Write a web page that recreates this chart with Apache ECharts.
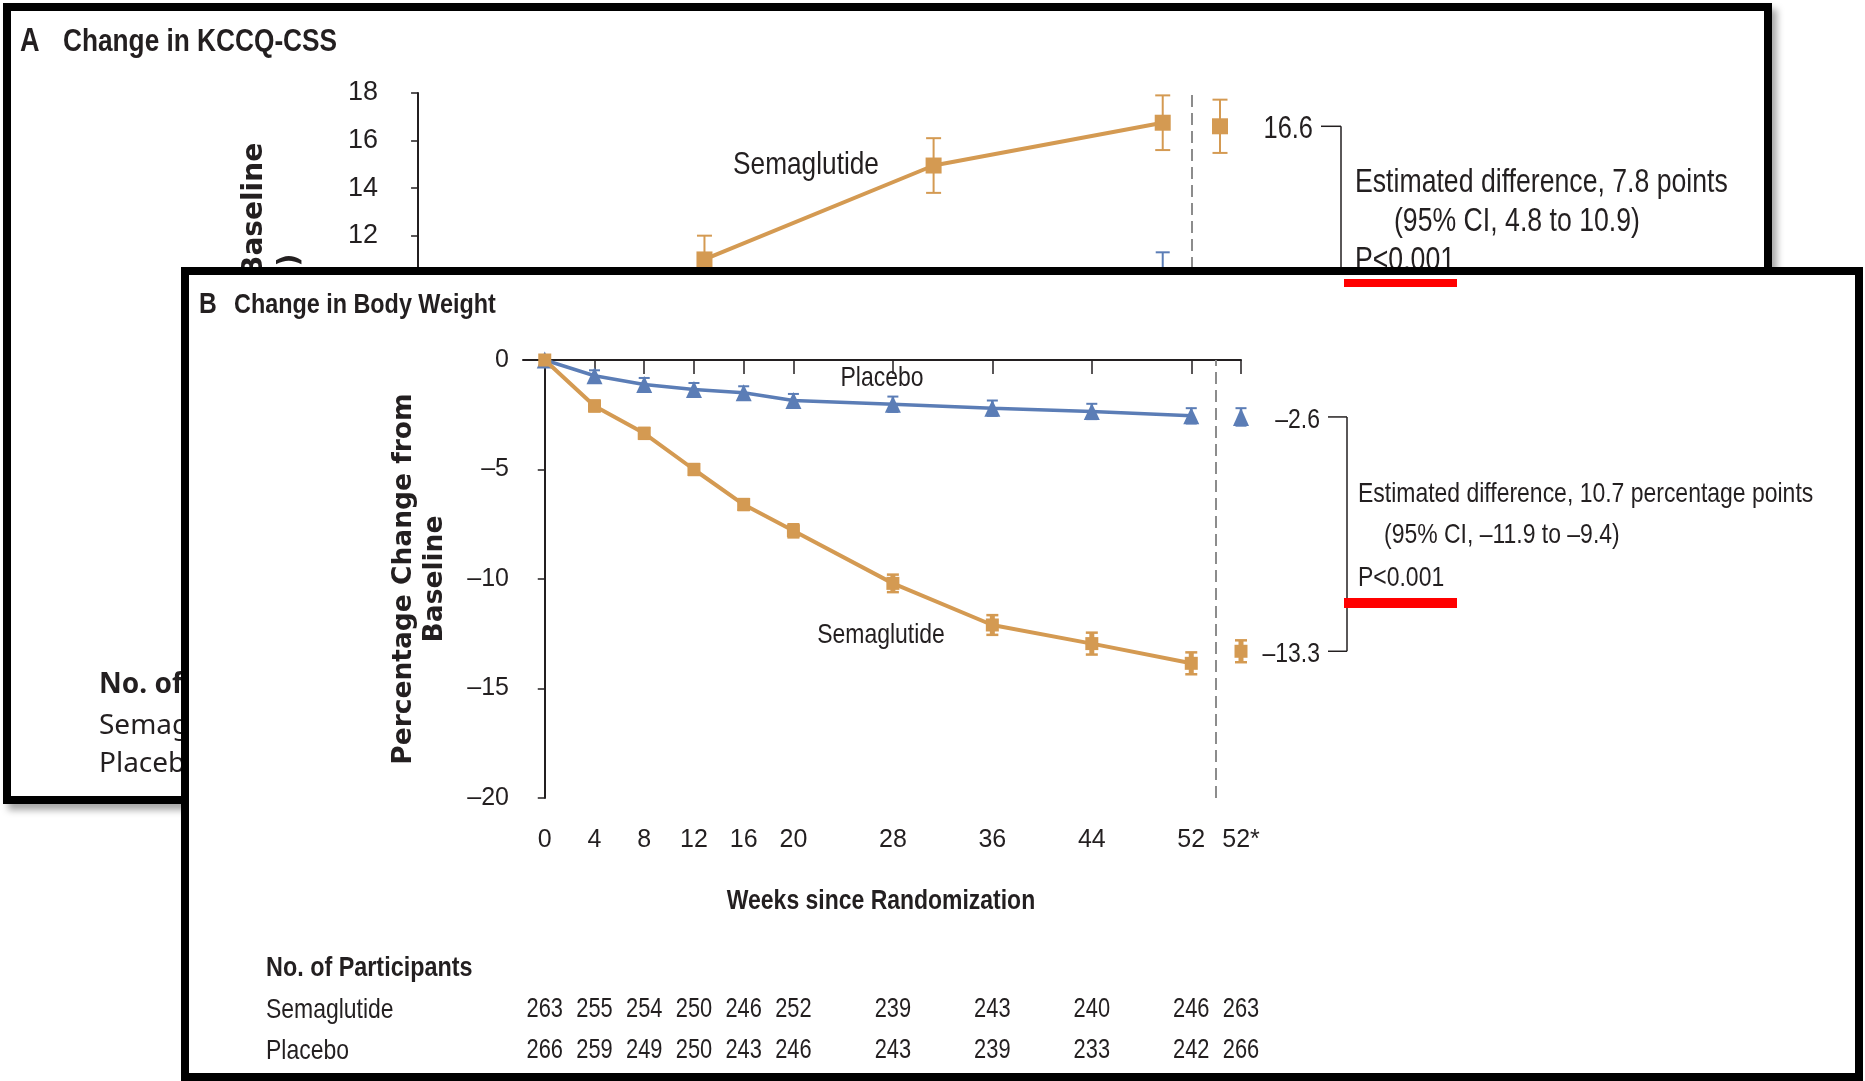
<!DOCTYPE html>
<html>
<head>
<meta charset="utf-8">
<script src="https://cdn.jsdelivr.net/npm/echarts@6/dist/echarts.min.js"></script>
<style>
  html, body { margin: 0; padding: 0; background: #fff; width: 1865px; height: 1081px; overflow: hidden; }
  .panel { position: absolute; box-sizing: border-box; border: 8px solid #000; background: #fff; }
  #panelA { left: 3px; top: 3px; width: 1769px; height: 801px; box-shadow: 5px 6px 7px rgba(0, 0, 0, 0.35); }
  #panelB { left: 181px; top: 267px; width: 1682px; height: 814px; }
  .chart { width: 100%; height: 100%; }
</style>
</head>
<body>
<div id="panelA" class="panel"><div id="chartA" class="chart"></div></div>
<div id="panelB" class="panel"><div id="chartB" class="chart"></div></div>
<script>
// ---- data, panel B (body weight, % change) ----
const weeksB = [0, 4, 8, 12, 16, 20, 28, 36, 44, 52]
const semaB = [0, -2.1, -3.35, -5.0, -6.6, -7.8, -10.2, -12.1, -12.95, -13.85]
const semaErrB = [0, 0.25, 0.25, 0.25, 0.25, 0.3, 0.4, 0.45, 0.5, 0.5]
const placeboB = [0, -0.72, -1.12, -1.35, -1.5, -1.85, -2.02, -2.2, -2.35, -2.55]
const placeboErrB = [0, 0.25, 0.3, 0.3, 0.3, 0.3, 0.35, 0.35, 0.35, 0.35]
const semaFinalB = -13.3
const semaFinalErrB = 0.5
const placeboFinalB = -2.6
const placeboFinalErrB = 0.4
const riskWeeks = [0, 4, 8, 12, 16, 20, 28, 36, 44, 52, 56]
const riskSema = [263, 255, 254, 250, 246, 252, 239, 243, 240, 246, 263]
const riskPlacebo = [266, 259, 249, 250, 243, 246, 243, 239, 233, 242, 266]
const riskGroups = ['Placebo', 'Semaglutide']

// ---- data, panel A (KCCQ-CSS, points) ----
const weeksA = [20, 36, 52]
const semaA = [11.0, 14.95, 16.75]
const semaErrA = [1.0, 1.15, 1.15]
const placeboWeeksA = [52]
const placeboA = [10.2]
const placeboErrA = [1.1]
const semaFinalA = 16.6
const semaFinalErrA = 1.12
const placeboFinalA = 8.8

// shared axis bits
const xTicks = [0, 4, 8, 12, 16, 20, 28, 36, 44, 52, 56]
const finalWeek = 56 // where "52*" sits
const dividerWeek = 54

const SEMA = '#d49a52'
const PLACEBO = '#5b7db6'
const INK = '#231f20'
const FONT = "'Liberation Sans', Arial, sans-serif"
const FONT_W = "'DejaVu Sans', 'Noto Sans', sans-serif"
const COND = 0.82 // squeeze factor to mimic the condensed journal face

function pairs (xs, ys) {
  return xs.map(function (x, i) { return [x, ys[i]] })
}
function errRows (xs, ys, es) {
  let rows = []
  xs.forEach(function (x, i) {
    if (es[i] > 0) rows.push([x, ys[i] - es[i], ys[i] + es[i]])
  })
  return rows
}
function dash (v) {
  return v < 0 ? '\u2013' + String(-v) : String(v)
}
function weekLabel (v) {
  return v === finalWeek ? '52*' : String(v)
}

function renderErrorBar (color, capWidth, lineWidth, stemWidth) {
  return function (params, api) {
    let top = api.coord([api.value(0), api.value(2)])
    let bottom = api.coord([api.value(0), api.value(1)])
    let half = capWidth / 2
    let cap = { stroke: color, lineWidth: lineWidth }
    return {
      type: 'group',
      children: [
        { type: 'line', shape: { x1: top[0], y1: top[1], x2: bottom[0], y2: bottom[1] }, style: { stroke: color, lineWidth: stemWidth || lineWidth } },
        { type: 'line', shape: { x1: top[0] - half, y1: top[1], x2: top[0] + half, y2: top[1] }, style: cap },
        { type: 'line', shape: { x1: bottom[0] - half, y1: bottom[1], x2: bottom[0] + half, y2: bottom[1] }, style: cap }
      ]
    }
  }
}

// bracket linking the two 52* estimates, drawn to the right of the axis
function renderBracket (cfg) {
  return function (params, api) {
    let a = api.coord([api.value(0), api.value(1)])
    let b = api.coord([api.value(0), api.value(2)])
    let x0 = a[0] + cfg.tickStart
    let x1 = a[0] + cfg.tickEnd
    let line = { stroke: INK, lineWidth: 1.5 }
    let txt = function (v, y) {
      return {
        type: 'text', x: a[0] + cfg.labelEnd, y: y + 3, scaleX: COND,
        style: { text: dash(v), align: 'right', verticalAlign: 'middle', fontSize: cfg.fontSize, fontFamily: FONT, fill: INK }
      }
    }
    let children = [
      { type: 'line', shape: { x1: x0, y1: a[1], x2: x1, y2: a[1] }, style: line },
      { type: 'line', shape: { x1: x1, y1: a[1], x2: x1, y2: b[1] }, style: line },
      { type: 'line', shape: { x1: x0, y1: b[1], x2: x1, y2: b[1] }, style: line },
      txt(api.value(1), a[1])
    ]
    if (cfg.bottomLabel) children.push(txt(api.value(2), b[1]))
    return { type: 'group', children: children }
  }
}

// participant counts placed on the shared week scale
function renderCount (params, api) {
  let p = api.coord([api.value(0), api.value(1)])
  return {
    type: 'text', x: p[0], y: p[1], scaleX: 0.78,
    style: { text: String(api.value(2)), align: 'center', verticalAlign: 'middle', fontSize: 28, fontFamily: FONT, fill: INK }
  }
}

function text (x, y, str, size, opts) {
  opts = opts || {}
  return {
    type: 'text', x: x, y: y, rotation: opts.rotation || 0, scaleX: opts.scaleX || COND, z: 50,
    style: {
      text: str, fontSize: size, fontFamily: opts.family || FONT, fontWeight: opts.weight || 'normal',
      fill: INK, align: opts.align || 'left', verticalAlign: 'middle', lineHeight: opts.lineHeight
    }
  }
}

function dividerLine () {
  return {
    silent: true,
    symbol: ['none', 'none'],
    label: { show: false },
    lineStyle: { color: '#8c8c8c', width: 2, type: [12, 6] },
    data: [{ xAxis: dividerWeek }]
  }
}

// ---------------- panel B ----------------
function buildOptionB () {
  return {
    animation: false,
    grid: [
      { left: 334, top: 85, width: 718, height: 438, outerBoundsMode: 'none' },
      { left: 334, top: 714, width: 718, height: 82, outerBoundsMode: 'none' }
    ],
    xAxis: [
      {
        gridIndex: 0, type: 'value', min: -1.75, max: finalWeek,
        axisLine: { show: true, lineStyle: { color: INK, width: 2 } },
        axisTick: { show: true, customValues: xTicks, length: 14, lineStyle: { color: INK, width: 1.5 } },
        axisLabel: { customValues: xTicks, formatter: weekLabel, margin: 30, fontSize: 25, color: INK, fontFamily: FONT },
        splitLine: { show: false }
      },
      { gridIndex: 1, type: 'value', min: -1.75, max: finalWeek, show: false }
    ],
    yAxis: [
      {
        gridIndex: 0, type: 'value', min: -20, max: 0, interval: 5,
        axisLine: { show: true, lineStyle: { color: INK, width: 2 } },
        axisTick: { show: true, length: 7, lineStyle: { color: INK, width: 1.5 } },
        axisLabel: { formatter: dash, margin: 14, fontSize: 25, color: INK, fontFamily: FONT },
        splitLine: { show: false }
      },
      { gridIndex: 1, type: 'category', data: riskGroups, show: false }
    ],
    series: [
      {
        type: 'custom', name: 'placebo err', renderItem: renderErrorBar(PLACEBO, 11, 2, 2.5), clip: false, z: 3,
        data: errRows(weeksB.concat([finalWeek]), placeboB.concat([placeboFinalB]), placeboErrB.concat([placeboFinalErrB]))
      },
      {
        type: 'custom', name: 'sema err', renderItem: renderErrorBar(SEMA, 12, 2.5, 5), clip: false, z: 3,
        data: errRows(weeksB.concat([finalWeek]), semaB.concat([semaFinalB]), semaErrB.concat([semaFinalErrB]))
      },
      {
        name: 'Placebo', type: 'line', data: pairs(weeksB, placeboB), symbol: 'triangle', symbolSize: [16, 17],
        showAllSymbol: true, lineStyle: { color: PLACEBO, width: 3.5 }, itemStyle: { color: PLACEBO }, z: 4
      },
      {
        name: 'Semaglutide', type: 'line', data: pairs(weeksB, semaB), symbol: 'rect', symbolSize: 13,
        showAllSymbol: true, lineStyle: { color: SEMA, width: 4 }, itemStyle: { color: SEMA }, z: 5,
        markLine: dividerLine()
      },
      {
        name: 'Placebo 52*', type: 'scatter', data: [[finalWeek, placeboFinalB]], symbol: 'triangle',
        symbolSize: [16, 18], itemStyle: { color: PLACEBO, opacity: 1 }, z: 4
      },
      {
        name: 'Semaglutide 52*', type: 'scatter', data: [[finalWeek, semaFinalB]], symbol: 'rect',
        symbolSize: 13, itemStyle: { color: SEMA, opacity: 1 }, z: 5
      },
      {
        type: 'custom', name: 'bracket', clip: false, z: 6,
        renderItem: renderBracket({ tickStart: 87, tickEnd: 106, labelEnd: 79, fontSize: 28, bottomLabel: true }),
        data: [[finalWeek, placeboFinalB, semaFinalB]]
      },
      {
        type: 'custom', name: 'No. of Participants', xAxisIndex: 1, yAxisIndex: 1, clip: false, z: 6,
        renderItem: renderCount,
        encode: { x: 0, y: 1 },
        data: riskWeeks.map(function (w, i) { return [w, 'Semaglutide', riskSema[i]] })
          .concat(riskWeeks.map(function (w, i) { return [w, 'Placebo', riskPlacebo[i]] }))
      }
    ],
    graphic: [
      text(10, 30, 'B', 30, { weight: 'bold' }),
      text(45, 30, 'Change in Body Weight', 28.5, { weight: 'bold' }),
      text(231, 304, 'Percentage Change from\nBaseline', 26.5, { family: FONT_W, weight: 'bold', align: 'center', rotation: Math.PI / 2, lineHeight: 31, scaleX: 1 }),
      text(693, 103, 'Placebo', 28, { align: 'center' }),
      text(692, 360, 'Semaglutide', 28, { align: 'center' }),
      text(692, 626, 'Weeks since Randomization', 28, { align: 'center', weight: 'bold' }),
      text(1169, 219, 'Estimated difference, 10.7 percentage points', 28),
      text(1195, 260, '(95% CI, \u201311.9 to \u20139.4)', 28),
      text(1169, 303, 'P<0.001', 28),
      text(77, 693, 'No. of Participants', 28.5, { weight: 'bold' }),
      text(77, 735, 'Semaglutide', 28),
      text(77, 776, 'Placebo', 28),
      { type: 'rect', z: 60, shape: { x: 1155, y: 4, width: 113, height: 8 }, style: { fill: '#ff0000' } },
      { type: 'rect', z: 60, shape: { x: 1155, y: 323, width: 113, height: 10 }, style: { fill: '#ff0000' } }
    ]
  }
}

// ---------------- panel A ----------------
function buildOptionA () {
  return {
    animation: false,
    grid: { left: 382, top: 82, width: 827, height: 428, outerBoundsMode: 'none' },
    xAxis: {
      type: 'value', min: -1.75, max: finalWeek,
      axisLine: { show: true, lineStyle: { color: INK, width: 2 } },
      axisTick: { show: true, customValues: xTicks, length: 14, lineStyle: { color: INK } },
      axisLabel: { customValues: xTicks, formatter: weekLabel, fontSize: 27, color: INK, fontFamily: FONT },
      splitLine: { show: false }
    },
    yAxis: {
      type: 'value', min: 0, max: 18, interval: 2,
      axisLine: { show: true, lineStyle: { color: INK, width: 2 } },
      axisTick: { show: true, length: 7, lineStyle: { color: INK, width: 1.5 } },
      axisLabel: { margin: 15, fontSize: 27, color: INK, fontFamily: FONT },
      splitLine: { show: false }
    },
    series: [
      {
        type: 'custom', name: 'placebo err', renderItem: renderErrorBar(PLACEBO, 14, 2), clip: false, z: 3,
        data: errRows(placeboWeeksA, placeboA, placeboErrA)
      },
      {
        type: 'custom', name: 'sema err', renderItem: renderErrorBar(SEMA, 15, 2), clip: false, z: 3,
        data: errRows(weeksA.concat([finalWeek]), semaA.concat([semaFinalA]), semaErrA.concat([semaFinalErrA]))
      },
      {
        name: 'Placebo', type: 'line', data: pairs(placeboWeeksA, placeboA), symbol: 'triangle', symbolSize: [17, 18],
        lineStyle: { color: PLACEBO, width: 4 }, itemStyle: { color: PLACEBO }, z: 4
      },
      {
        name: 'Semaglutide', type: 'line', data: pairs(weeksA, semaA), symbol: 'rect', symbolSize: 16,
        showAllSymbol: true, lineStyle: { color: SEMA, width: 4 }, itemStyle: { color: SEMA }, z: 5,
        markLine: dividerLine()
      },
      {
        name: 'Semaglutide 52*', type: 'scatter', data: [[finalWeek, semaFinalA]], symbol: 'rect',
        symbolSize: 16, itemStyle: { color: SEMA, opacity: 1 }, z: 5
      },
      {
        name: 'Placebo 52*', type: 'scatter', data: [[finalWeek, placeboFinalA]], symbol: 'triangle',
        symbolSize: [17, 18], itemStyle: { color: PLACEBO, opacity: 1 }, z: 4
      },
      {
        type: 'custom', name: 'bracket', clip: false, z: 6,
        renderItem: renderBracket({ tickStart: 101, tickEnd: 121, labelEnd: 93, fontSize: 31, bottomLabel: false }),
        data: [[finalWeek, semaFinalA, placeboFinalA]]
      }
    ],
    graphic: [
      text(9, 31, 'A', 33, { weight: 'bold' }),
      text(52, 31, 'Change in KCCQ-CSS', 32, { weight: 'bold' }),
      text(262, 305, 'Change from Baseline\n(points)', 28, { family: FONT_W, weight: 'bold', align: 'center', rotation: Math.PI / 2, lineHeight: 36, scaleX: 1 }),
      text(795, 154, 'Semaglutide', 32, { align: 'center' }),
      text(1344, 172, 'Estimated difference, 7.8 points', 32.5),
      text(1383, 211, '(95% CI, 4.8 to 10.9)', 32.5),
      text(1344, 250, 'P<0.001', 32.5),
      text(88, 674, 'No. of Participants', 28, { family: "'Noto Sans', sans-serif", weight: 'bold', scaleX: 1 }),
      text(88, 715, 'Semaglutide', 28, { family: "'Noto Sans', sans-serif", scaleX: 1 }),
      text(88, 753, 'Placebo', 28, { family: "'Noto Sans', sans-serif", scaleX: 1 })
    ]
  }
}

let chartA = echarts.init(document.getElementById('chartA'))
chartA.setOption(buildOptionA())
let chartB = echarts.init(document.getElementById('chartB'))
chartB.setOption(buildOptionB())
window.onresize = function () {
  chartA.resize()
  chartB.resize()
}
</script>
</body>
</html>
